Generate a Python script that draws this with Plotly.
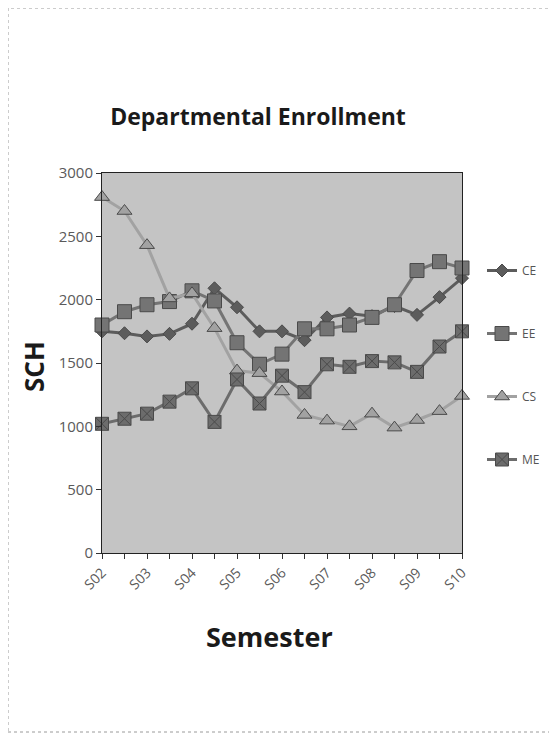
import plotly.graph_objects as go

semesters = ["S02", "F02", "S03", "F03", "S04", "F04", "S05", "F05", "S06",
             "F06", "S07", "F07", "S08", "F08", "S09", "F09", "S10"]
tick_labels = ["S02", "", "S03", "", "S04", "", "S05", "", "S06",
               "", "S07", "", "S08", "", "S09", "", "S10"]

ce = [1750, 1735, 1710, 1730, 1810, 2090, 1940, 1750, 1750,
      1680, 1860, 1890, 1870, 1950, 1880, 2020, 2170]
ee = [1800, 1905, 1960, 1985, 2070, 1990, 1660, 1490, 1570,
      1770, 1770, 1800, 1860, 1960, 2230, 2300, 2250]
cs = [2810, 2700, 2430, 2010, 2050, 1775, 1440, 1420, 1275,
      1090, 1045, 1000, 1100, 990, 1050, 1120, 1240]
me = [1020, 1060, 1100, 1195, 1300, 1035, 1370, 1180, 1400,
      1270, 1490, 1470, 1515, 1505, 1430, 1630, 1750]

series = [
    ("CE", ce, "#5c5c5c", "diamond", 10),
    ("EE", ee, "#747474", "square", 14),
    ("CS", cs, "#a2a2a2", "triangle-up", 13),
    ("ME", me, "#6c6c6c", "square-x", 13),
]

OFF = 8  # page body margin
W, H = 557 - OFF, 740 - OFF
PL, PR, PT, PB = 102, 462, 173, 553  # plot area in page pixels

fig = go.Figure()
for name, vals, col, sym, sz in series:
    fig.add_trace(go.Scatter(
        x=semesters, y=vals, name=name, mode="lines+markers",
        line=dict(color=col, width=3),
        marker=dict(symbol=sym, size=sz, color=col,
                    line=dict(color="#4a4a4a", width=1)),
        cliponaxis=False, legendgroup=name,
    ))

def px(x):
    return (x - PL) / (PR - PL)

def py(y):
    return (PB - y) / (PB - PT)

fig.update_layout(
    width=W, height=H,
    margin=dict(l=PL - OFF, r=W - (PR - OFF), t=PT - OFF, b=H - (PB - OFF)),
    paper_bgcolor="white",
    plot_bgcolor="#c4c4c4",
    font=dict(family="Open Sans, DejaVu Sans, sans-serif", color="#555555"),
    title=dict(text="<b>Departmental Enrollment</b>", xref="container", yref="container",
               x=(258 - OFF) / W, y=1 - (117 - OFF) / H, xanchor="center", yanchor="middle",
               font=dict(size=23, color="#1a1a1a")),
    showlegend=True,
    legend=dict(x=px(482), y=py(256), xanchor="left", yanchor="top",
                bgcolor="rgba(0,0,0,0)", font=dict(size=12, color="#555555"),
                tracegroupgap=44, itemwidth=30),
    xaxis=dict(
        type="category", range=[0, 16],
        tickmode="array", tickvals=semesters, ticktext=tick_labels,
        tickangle=-45, ticks="outside", ticklen=5, tickcolor="#333333",
        showline=True, linecolor="#222222", linewidth=1, mirror=True,
        showgrid=False, zeroline=False,
        tickfont=dict(size=14, color="#5a5a5a"),
    ),
    yaxis=dict(
        range=[0, 3000], tickmode="linear", tick0=0, dtick=500,
        ticks="outside", ticklen=5, tickcolor="#333333",
        showline=True, linecolor="#222222", linewidth=1, mirror=True,
        showgrid=False, zeroline=False,
        tickfont=dict(size=15, color="#5a5a5a"),
    ),
    annotations=[
        dict(text="<b>SCH</b>", x=px(34), y=py(367),
             xref="paper", yref="paper", showarrow=False, textangle=-90,
             font=dict(size=26, color="#1a1a1a"), xanchor="center", yanchor="middle"),
        dict(text="<b>Semester</b>", x=px(269), y=py(636),
             xref="paper", yref="paper", showarrow=False,
             font=dict(size=27, color="#1a1a1a"), xanchor="center", yanchor="middle"),
    ],
    shapes=[
        dict(type="rect", xref="paper", yref="paper",
             x0=px(8), x1=px(552), y0=py(732), y1=py(8),
             line=dict(color="#9a9a9a", width=1, dash="dot"), layer="below"),
    ],
)

fig.write_html("out.html")
